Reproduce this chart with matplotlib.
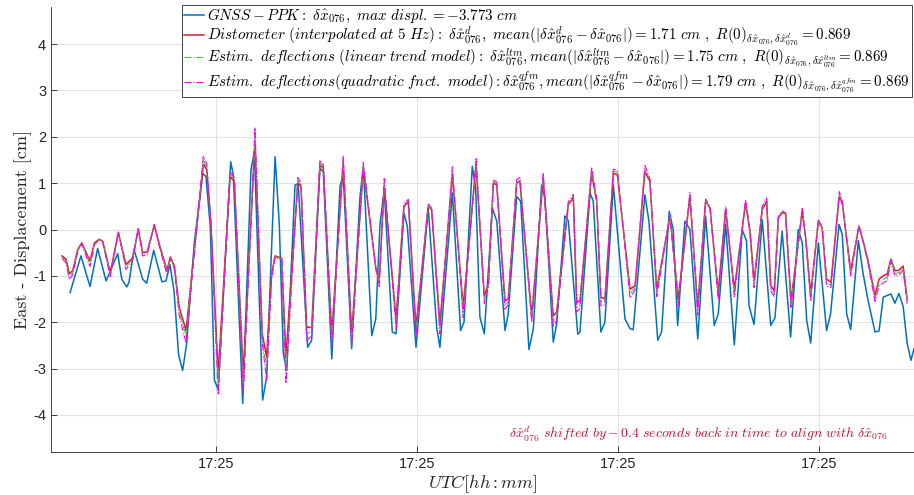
import matplotlib
matplotlib.use('Agg')
import matplotlib.pyplot as plt

plt.rcParams['mathtext.fontset'] = 'cm'
plt.rcParams['axes.unicode_minus'] = False

# GNSS-PPK (time in seconds after 17:25:00, displacement in cm)
t_gnss = [2.74, 3.28, 3.73, 4.11, 4.53, 5.11, 5.31, 5.56, 5.67, 5.92, 6.35, 6.55, 6.90, 7.31, 7.51,
          7.71, 7.91, 8.14, 8.34, 8.54, 8.92, 9.34, 9.50, 9.72, 9.92, 10.11, 10.73, 10.86, 11.33,
          11.74, 11.91, 12.32, 12.52, 12.94, 13.15, 13.35, 13.52, 13.93, 14.09, 14.56, 14.76,
          15.17, 15.34, 15.76, 16.17, 16.33, 16.75, 17.16, 17.33, 17.75, 17.95, 18.16, 18.37,
          18.77, 18.96, 19.35, 19.52, 19.95, 20.56, 20.98, 21.14, 21.76, 22.17, 22.34, 22.75,
          22.92, 23.13, 23.35, 23.75, 23.97, 24.38, 24.54, 24.96, 25.16, 25.57, 25.79, 26.20,
          26.37, 26.78, 26.95, 27.36, 27.53, 28.00, 28.11, 28.61, 28.77, 29.15, 29.35, 29.77,
          30.35, 30.60, 30.76, 31.34, 31.54, 31.98, 32.17, 32.55, 32.75, 32.97, 33.33, 33.58,
          33.97, 34.36, 34.79, 34.99, 35.36, 35.79, 36.18, 36.40, 36.52, 36.77, 37.18, 37.60,
          37.81, 38.17, 38.59, 38.97, 39.17, 39.39, 39.59, 39.97, 40.38, 40.58, 41.00, 41.16,
          41.38, 41.58, 41.96, 42.20, 42.45, 42.79, 42.99, 43.20, 43.58, 43.78, 43.98, 44.19,
          44.39, 44.58, 44.73]
gnss = [-1.36, -0.57, -1.23, -0.41, -1.11, -0.52, -1.07, -1.24, -1.14, -0.43, -1.07, -1.16, -0.45,
        -1.13, -1.11, -0.76, -1.32, -2.71, -3.04, -2.46, -0.29, 1.21, 1.14, 0.04, -3.25, -3.46,
        1.46, 1.18, -3.75, 1.29, 1.68, -3.68, -3.18, 1.57, 0.11, -2.68, -3.04, 0.96, 0.99, -2.54,
        -2.39, 1.32, 1.25, -2.79, 0.93, 1.18, -2.57, 0.68, 1.36, -2.29, -1.93, 0.11, 0.86, -2.21,
        -2.25, 0.36, 0.07, -2.54, 0.46, -2.11, -2.54, 0.79, -2.18, -2.00, 1.36, 0.89, -1.89,
        -2.25, 0.46, 0.18, -2.18, -1.82, 0.71, 0.61, -2.59, -2.14, 0.96, 0.68, -2.43, -2.04,
        0.29, 0.19, -2.26, -2.21, 0.79, 0.61, -2.21, -2.00, 0.96, -1.93, -2.14, -2.16, 0.75,
        0.18, -2.39, -2.21, 0.39, 0.00, -2.07, 0.18, 0.00, -2.36, 0.29, -2.07, -1.82, 0.11,
        -2.49, 0.00, -0.25, -1.64, -2.05, 0.21, -2.07, -1.91, -0.04, -2.32, 0.00, -0.29, -1.96,
        -2.45, -0.29, -2.18, -1.82, 0.11, -0.11, -1.82, -2.16, -0.24, -0.96, -1.54, -2.21,
        -2.19, -1.46, -1.39, -1.59, -1.38, -1.66, -2.46, -2.82, -2.57]

# distometer and estimated deflections share the same time stamps
t_dist = [2.34, 2.54, 2.70, 2.87, 3.12, 3.32, 3.73, 3.95, 4.19, 4.36, 4.74, 5.14, 5.52, 5.86, 6.13,
          6.35, 6.57, 6.93, 7.18, 7.56, 7.73, 7.93, 8.17, 8.51, 8.96, 9.37, 9.54, 9.75, 10.11,
          10.70, 10.91, 11.36, 11.94, 12.30, 12.52, 12.77, 12.94, 13.27, 13.48, 14.07, 14.23,
          14.51, 14.76, 15.17, 15.34, 15.76, 16.33, 16.75, 17.33, 17.95, 18.12, 18.37, 18.96,
          19.35, 19.57, 19.95, 20.56, 20.73, 21.14, 21.76, 22.30, 22.94, 23.35, 23.55, 23.80,
          23.97, 24.38, 24.54, 24.96, 25.12, 25.71, 26.28, 26.78, 26.95, 27.53, 27.78, 27.95,
          28.11, 28.69, 28.94, 29.15, 29.35, 29.77, 29.97, 30.60, 30.85, 31.34, 31.59, 31.93,
          32.59, 33.00, 33.58, 33.97, 34.36, 34.58, 34.99, 35.36, 35.79, 36.35, 36.57, 36.77,
          37.18, 37.40, 37.60, 37.78, 37.98, 38.17, 38.34, 38.61, 39.17, 39.34, 39.59, 39.97,
          40.16, 40.38, 40.60, 41.01, 41.16, 41.58, 41.99, 42.20, 42.45, 42.79, 42.99, 43.20,
          43.40, 43.58, 43.78, 43.98, 44.19, 44.39]
dist = [-0.57, -0.64, -0.95, -0.89, -0.43, -0.29, -0.68, -0.29, -0.21, -0.25, -0.93, -0.07, -0.75,
        -0.61, 0.01, -0.49, -0.49, 0.09, -0.32, -0.88, -0.59, -0.79, -1.68, -2.18, -0.29, 1.41,
        1.29, 0.11, -3.11, 1.14, 1.04, -3.14, 1.89, -2.25, -2.75, -0.96, -0.57, -0.62, -2.75,
        1.00, 0.93, -2.11, -2.11, 1.39, 1.32, -2.25, 1.43, -2.25, 1.32, -0.82, -1.11, 0.93,
        -1.93, 0.50, 0.59, -2.11, 0.50, 0.43, -2.04, 1.18, -1.68, 1.39, -1.43, -1.18, 1.00,
        0.96, -1.54, -1.50, 1.00, 1.04, -1.86, 1.11, -1.86, -1.79, 0.54, 0.68, -1.57, -1.54,
        1.21, 0.61, -1.46, -1.50, 1.21, 1.18, -1.29, -1.21, 1.25, 1.04, -1.29, 0.29, -1.50,
        0.71, -1.68, 0.61, 0.46, -1.36, 0.43, -1.29, 0.57, -0.04, -1.11, 0.43, 0.61, -1.21,
        -1.32, 0.25, 0.36, 0.34, -1.54, 0.39, -0.18, -1.39, 0.18, 0.04, -1.07, -1.14, 0.71,
        0.57, -0.89, 0.07, -0.25, -0.68, -1.43, -1.07, -1.00, -0.96, -0.64, -0.89, -0.88,
        -0.79, -1.50]
ltm = [-0.60, -0.68, -1.02, -0.93, -0.45, -0.30, -0.74, -0.31, -0.21, -0.26, -0.97, -0.06, -0.80,
       -0.63, 0.02, -0.53, -0.52, 0.10, -0.34, -0.93, -0.60, -0.82, -1.76, -2.30, -0.29, 1.50,
       1.35, 0.11, -3.35, 1.20, 1.08, -3.35, 2.05, -2.35, -3.00, -1.00, -0.58, -0.64, -3.05,
       1.06, 0.96, -2.25, -2.20, 1.45, 1.36, -2.38, 1.50, -2.38, 1.38, -0.83, -1.18, 1.02,
       -2.05, 0.53, 0.62, -2.20, 0.52, 0.44, -2.15, 1.26, -1.80, 1.47, -1.52, -1.22, 1.04,
       0.99, -1.63, -1.56, 1.04, 1.08, -1.93, 1.16, -1.98, -1.87, 0.57, 0.72, -1.68, -1.62,
       1.28, 0.63, -1.55, -1.56, 1.26, 1.23, -1.38, -1.25, 1.31, 1.07, -1.37, 0.30, -1.57,
       0.75, -1.76, 0.63, 0.47, -1.44, 0.46, -1.37, 0.61, -0.05, -1.18, 0.46, 0.64, -1.26,
       -1.38, 0.26, 0.38, 0.35, -1.60, 0.43, -0.19, -1.47, 0.20, 0.04, -1.15, -1.20, 0.76,
       0.60, -0.95, 0.08, -0.26, -0.71, -1.48, -1.15, -1.08, -1.03, -0.66, -0.95, -0.93,
       -0.84, -1.55]
qfm = [-0.62, -0.72, -1.08, -0.98, -0.47, -0.31, -0.80, -0.33, -0.22, -0.27, -1.02, -0.05, -0.86,
       -0.66, 0.03, -0.57, -0.55, 0.11, -0.36, -0.98, -0.62, -0.86, -1.85, -2.45, -0.30, 1.58,
       1.42, 0.10, -3.57, 1.25, 1.12, -3.55, 2.20, -2.45, -3.25, -1.05, -0.60, -0.66, -3.32,
       1.12, 1.00, -2.40, -2.30, 1.50, 1.40, -2.50, 1.58, -2.50, 1.45, -0.85, -1.25, 1.10,
       -2.15, 0.56, 0.65, -2.30, 0.55, 0.46, -2.25, 1.35, -1.90, 1.55, -1.60, -1.25, 1.08,
       1.02, -1.72, -1.62, 1.08, 1.12, -2.00, 1.22, -2.10, -1.95, 0.60, 0.76, -1.78, -1.70,
       1.35, 0.66, -1.65, -1.62, 1.30, 1.28, -1.48, -1.30, 1.38, 1.10, -1.45, 0.32, -1.65,
       0.80, -1.85, 0.66, 0.48, -1.52, 0.50, -1.45, 0.65, -0.06, -1.25, 0.50, 0.68, -1.32,
       -1.45, 0.28, 0.40, 0.36, -1.68, 0.48, -0.20, -1.55, 0.22, 0.04, -1.22, -1.25, 0.82,
       0.62, -1.00, 0.09, -0.28, -0.75, -1.55, -1.22, -1.15, -1.10, -0.68, -1.00, -0.98,
       -0.88, -1.60]

tick_pos = [10, 20, 30, 40]
tick_labels = ['17:25', '17:25', '17:25', '17:25']

lab_gnss = r'$GNSS-PPK:\ \delta\hat{x}_{076},\ max\ displ.=-3.773\ cm$'
lab_dist = (r'$Distometer\ (interpolated\ at\ 5\ Hz):\ \delta\hat{x}^{d}_{076},\ '
            r'mean(|\delta\hat{x}^{d}_{076}-\delta\hat{x}_{076}|)=1.71\ cm\ ,\ '
            r'R(0)_{\delta\hat{x}_{076},\delta\hat{x}^{d}_{076}}=0.869$')
lab_ltm = (r'$Estim.\ deflections\ (linear\ trend\ model):\ \delta\hat{x}^{ltm}_{076},'
           r'mean(|\delta\hat{x}^{ltm}_{076}-\delta\hat{x}_{076}|)=1.75\ cm\ ,\ '
           r'R(0)_{\delta\hat{x}_{076},\delta\hat{x}^{ltm}_{076}}=0.869$')
lab_qfm = (r'$Estim.\ deflections(quadratic\ fnct.\ model):\delta\hat{x}^{qfm}_{076},'
           r'mean(|\delta\hat{x}^{qfm}_{076}-\delta\hat{x}_{076}|)=1.79\ cm\ ,\ '
           r'R(0)_{\delta\hat{x}_{076},\delta\hat{x}^{qfm}_{076}}=0.869$')

fig = plt.figure(figsize=(9.14, 4.95), dpi=100)
ax = fig.add_axes([51/914, 1 - 452/495, 863/914, 445/495])

ax.plot(t_gnss, gnss, color='#0072BD', lw=1.1, label=lab_gnss)
ax.plot(t_dist, dist, color='#D81B2E', lw=1.1, label=lab_dist)
ax.plot(t_dist, ltm, color='#55C040', lw=0.8, ls='-.', label=lab_ltm)
ax.plot(t_dist, qfm, color='#FF00FF', lw=0.8, ls='-.', label=lab_qfm)

ax.set_xlim(1.79, 44.73)
ax.set_ylim(-4.8, 4.8)
ax.set_yticks([-4, -3, -2, -1, 0, 1, 2, 3, 4])
ax.set_xticks(tick_pos)
ax.set_xticklabels(tick_labels)
for lbl in ax.get_xticklabels() + ax.get_yticklabels():
    lbl.set_fontfamily('Liberation Sans')
    lbl.set_fontsize(10.5)
    lbl.set_color('#262626')
ax.tick_params(direction='in', length=4, width=0.6, color='#262626')
ax.grid(True, color='#e3e3e3', lw=0.8)
ax.set_axisbelow(True)
for s in ['left', 'bottom']:
    ax.spines[s].set_color('#262626')
    ax.spines[s].set_linewidth(0.6)
ax.spines['top'].set_visible(False)
ax.spines['right'].set_visible(False)

ax.set_ylabel('East - Displacement [cm]', fontfamily='cmr10', fontsize=13, color='#262626',
              labelpad=1)
ax.set_xlabel(r'$UTC[hh:mm]$', fontsize=13, color='#262626', labelpad=2)

ax.text(0.97, 0.018,
        r'$\delta\hat{x}^{d}_{076}\ shifted\ by-0.4\ seconds\ back\ in\ time\ to\ align\ with\ \delta\hat{x}_{076}$',
        transform=ax.transAxes, ha='right', va='bottom', fontsize=10, color='#C8102E')

leg = ax.legend(loc='upper left', bbox_to_anchor=(0.152, 1.005), fontsize=10.85, handlelength=1.3,
                handletextpad=0.2, labelspacing=-0.05, borderpad=0.15, borderaxespad=0.0,
                fancybox=False, framealpha=1)
leg.get_frame().set_edgecolor('#262626')
leg.get_frame().set_linewidth(0.6)

fig.savefig('out.png', dpi=100)
